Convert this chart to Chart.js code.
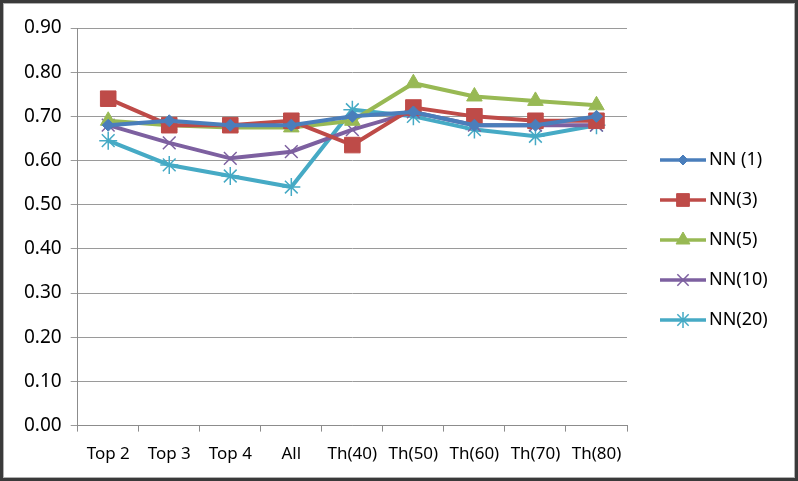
<!DOCTYPE html>
<html>
<head>
<meta charset="utf-8">
<script src="https://cdn.jsdelivr.net/npm/chart.js@4.4.1/dist/chart.umd.min.js"></script>
<style>
  html, body { margin: 0; padding: 0; background: #fff; }
  #wrap {
    width: 798px; height: 481px; box-sizing: border-box;
    border: 3px solid #3a3a3a; box-shadow: inset 0 0 0 1px #b0b0b0;
    background: #fff; position: relative;
  }
</style>
</head>
<body>
<div id="wrap"><canvas id="chart"></canvas></div>
<script>
// categories and series
const categories = ['Top 2', 'Top 3', 'Top 4', 'All', 'Th(40)', 'Th(50)', 'Th(60)', 'Th(70)', 'Th(80)'];
const nn1  = [0.68, 0.69, 0.68, 0.68, 0.70, 0.71, 0.68, 0.68, 0.70];
const nn3  = [0.74, 0.68, 0.68, 0.69, 0.635, 0.72, 0.70, 0.69, 0.69];
const nn5  = [0.69, 0.68, 0.675, 0.675, 0.69, 0.775, 0.745, 0.735, 0.725];
const nn10 = [0.68, 0.64, 0.605, 0.62, 0.67, 0.71, 0.68, 0.68, 0.68];
const nn20 = [0.645, 0.59, 0.565, 0.54, 0.715, 0.70, 0.67, 0.655, 0.68];
const seriesNames = ['NN (1)', 'NN(3)', 'NN(5)', 'NN(10)', 'NN(20)'];

const FONT = '"Noto Sans", sans-serif';

function series(label, data, color, style, radius, legendRadius) {
    return {
        label: label, data: data,
        borderColor: color, backgroundColor: color,
        borderWidth: 4, pointStyle: style, pointRadius: radius,
        legendRadius: legendRadius,
        pointBorderWidth: style === 'crossRot' || style === 'star' ? 1.5 : 1,
        pointBorderColor: color, pointBackgroundColor: color,
        tension: 0
    };
}

// legend on the right: line with marker in the middle
const sideLegend = {
    id: 'sideLegend',
    afterDraw(chart) {
        const ctx = chart.ctx;
        const x0 = 657, x1 = 703, top = 157, step = 40;
        ctx.save();
        chart.data.datasets.forEach(function (ds, i) {
            const y = top + i * step;
            ctx.strokeStyle = ds.borderColor;
            ctx.lineWidth = 3.5;
            ctx.beginPath();
            ctx.moveTo(x0, y); ctx.lineTo(x1, y);
            ctx.stroke();
            ctx.fillStyle = ds.backgroundColor;
            ctx.strokeStyle = ds.borderColor;
            ctx.lineWidth = ds.pointBorderWidth;
            Chart.helpers.drawPoint(ctx, {
                pointStyle: ds.pointStyle, radius: ds.legendRadius, rotation: 0,
                borderWidth: ds.pointBorderWidth
            }, (x0 + x1) / 2, y);
            ctx.fillStyle = '#000';
            ctx.font = '18px ' + FONT;
            ctx.textBaseline = 'middle';
            ctx.fillText(ds.label, x1 + 3, y);
        });
        ctx.restore();
    }
};

new Chart(document.getElementById('chart'), {
    type: 'line',
    data: {
        labels: categories,
        datasets: [
            series(seriesNames[0], nn1, '#4A7EBB', 'rectRot', 6, 5),
            series(seriesNames[1], nn3, '#BE4B48', 'rect', 11, 9),
            series(seriesNames[2], nn5, '#98B954', 'triangle', 9, 8),
            series(seriesNames[3], nn10, '#7D60A0', 'crossRot', 9, 8),
            series(seriesNames[4], nn20, '#46AAC5', 'star', 9, 8)
        ]
    },
    options: {
        responsive: true,
        maintainAspectRatio: false,
        animation: false,
        layout: { padding: { top: 25, right: 168, left: 12, bottom: 2 } },
        plugins: { legend: { display: false }, tooltip: { enabled: false } },
        scales: {
            x: {
                offset: true,
                grid: { offset: true, drawOnChartArea: false, color: '#8c8c8c', tickLength: 6 },
                border: { color: '#8c8c8c' },
                ticks: { color: '#000', font: { family: FONT, size: 17 }, padding: 12, maxRotation: 0, autoSkip: false }
            },
            y: {
                min: 0, max: 0.9,
                grid: { color: '#9a9a9a', tickLength: 7 },
                border: { color: '#8c8c8c' },
                ticks: {
                    stepSize: 0.1, color: '#000', padding: 9,
                    font: { family: FONT, size: 19 },
                    callback: function (v) { return v.toFixed(2); }
                }
            }
        }
    },
    plugins: [sideLegend]
});
</script>
</body>
</html>
